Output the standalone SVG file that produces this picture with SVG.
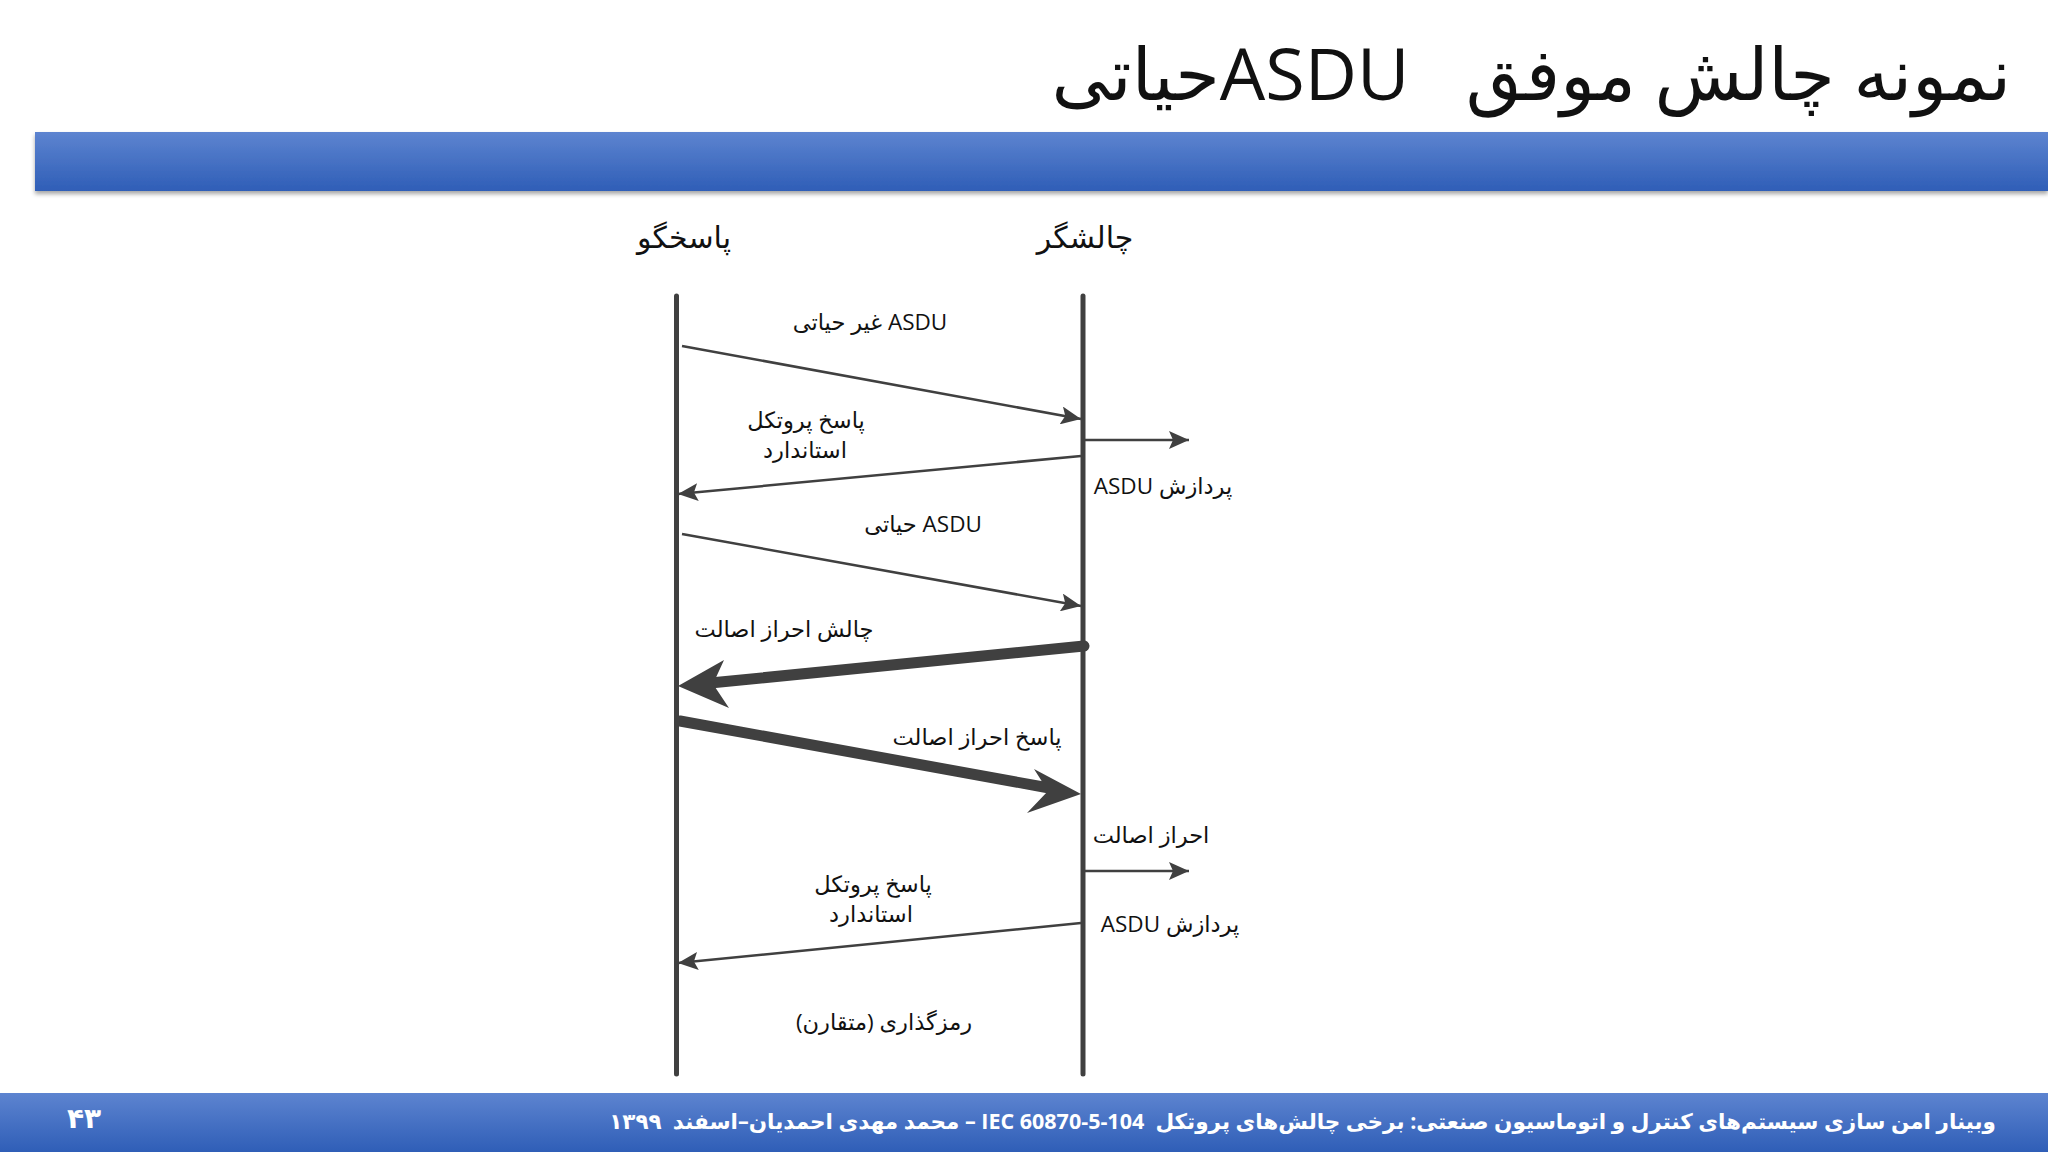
<svg xmlns="http://www.w3.org/2000/svg" width="2048" height="1152" viewBox="0 0 2048 1152">
<style>
.fa{font-family:"Open Sans","DejaVu Sans",sans-serif;fill:#111;direction:rtl;unicode-bidi:embed}
.lbl{font-size:22.5px;text-anchor:middle}
.hdr{font-size:30px;text-anchor:middle}
.life{stroke:#404040;stroke-width:5;stroke-linecap:round}
.thin{stroke:#404040;stroke-width:2.5;fill:none}
.thick{stroke:#404040;stroke-width:11;fill:none;stroke-linecap:round}
.foot{font-family:"Open Sans","DejaVu Sans",sans-serif;fill:#fff;font-weight:bold;direction:rtl;unicode-bidi:embed;white-space:pre}
</style>
<defs>
<linearGradient id="bar" x1="0" y1="0" x2="0" y2="1">
<stop offset="0" stop-color="#5d84d0"/>
<stop offset="1" stop-color="#2f5eb7"/>
</linearGradient>
<marker id="ah" markerUnits="userSpaceOnUse" markerWidth="22" markerHeight="18" refX="20" refY="9" orient="auto">
<path d="M0,0 L20,9 L0,18 L4,9 Z" fill="#404040"/>
</marker>
<filter id="sh" x="-5%" y="-20%" width="110%" height="160%">
<feDropShadow dx="0" dy="3" stdDeviation="2" flood-color="#000" flood-opacity="0.35"/>
</filter>
</defs>
<rect width="2048" height="1152" fill="#fff"/>
<g id="title">
<text class="fa" x="2011" y="100" font-size="72" text-anchor="start" style="white-space:pre">نمونه چالش موفق   ASDUحیاتی</text>
</g>
<rect id="topbar" x="35" y="132" width="2013" height="59" fill="url(#bar)" filter="url(#sh)"/>
<g id="responder">
<text class="fa hdr" x="684" y="248">پاسخگو</text>
<line class="life" x1="676.5" y1="296" x2="676.5" y2="1074"/>
</g>
<g id="challenger">
<text class="fa hdr" x="1085" y="248">چالشگر</text>
<line class="life" x1="1083" y1="296" x2="1083" y2="1074"/>
</g>
<g id="connectors">
<line class="thin" x1="682" y1="346" x2="1081" y2="419" marker-end="url(#ah)"/>
<line class="thin" x1="1085" y1="440" x2="1189" y2="440" marker-end="url(#ah)"/>
<line class="thin" x1="1081" y1="456" x2="678" y2="494" marker-end="url(#ah)"/>
<line class="thin" x1="682" y1="534" x2="1081" y2="606" marker-end="url(#ah)"/>
<line class="thick" x1="1084" y1="646" x2="700" y2="684"/>
<path d="M678,686 L724,660 L713,684 L729,708 Z" fill="#404040"/>
<line class="thick" x1="680" y1="721" x2="1060" y2="790"/>
<path d="M1081,794 L1034,769 L1048,791 L1027,813 Z" fill="#404040"/>
<line class="thin" x1="1085" y1="871" x2="1189" y2="871" marker-end="url(#ah)"/>
<line class="thin" x1="1081" y1="923" x2="678" y2="963" marker-end="url(#ah)"/>
</g>
<g id="labels">
<text class="fa lbl" x="870" y="330">ASDU غیر حیاتی</text>
<text class="fa lbl" x="806" y="428">پاسخ پروتکل</text>
<text class="fa lbl" x="805" y="458">استاندارد</text>
<text class="fa lbl" x="1163" y="494">پردازش ASDU</text>
<text class="fa lbl" x="923" y="532">ASDU حیاتی</text>
<text class="fa lbl" x="784" y="637">چالش احراز اصالت</text>
<text class="fa lbl" x="977" y="745">پاسخ احراز اصالت</text>
<text class="fa lbl" x="1151" y="843">احراز اصالت</text>
<text class="fa lbl" x="1170" y="932">پردازش ASDU</text>
<text class="fa lbl" x="873" y="892">پاسخ پروتکل</text>
<text class="fa lbl" x="871" y="922">استاندارد</text>
<text class="fa lbl" x="884" y="1030">رمزگذاری (متقارن)</text>
</g>
<g id="footer">
<rect x="0" y="1093" width="2048" height="59" fill="url(#bar)"/>
<text class="foot" x="84" y="1128" font-size="28" text-anchor="middle">۴۳</text>
<text class="foot" x="1996" y="1129" font-size="21.5" text-anchor="start">وبینار امن سازی سیستم‌های کنترل و اتوماسیون صنعتی: برخی چالش‌های پروتکل  IEC 60870-5-104 – محمد مهدی احمدیان–اسفند  ۱۳۹۹</text>
</g>
</svg>
